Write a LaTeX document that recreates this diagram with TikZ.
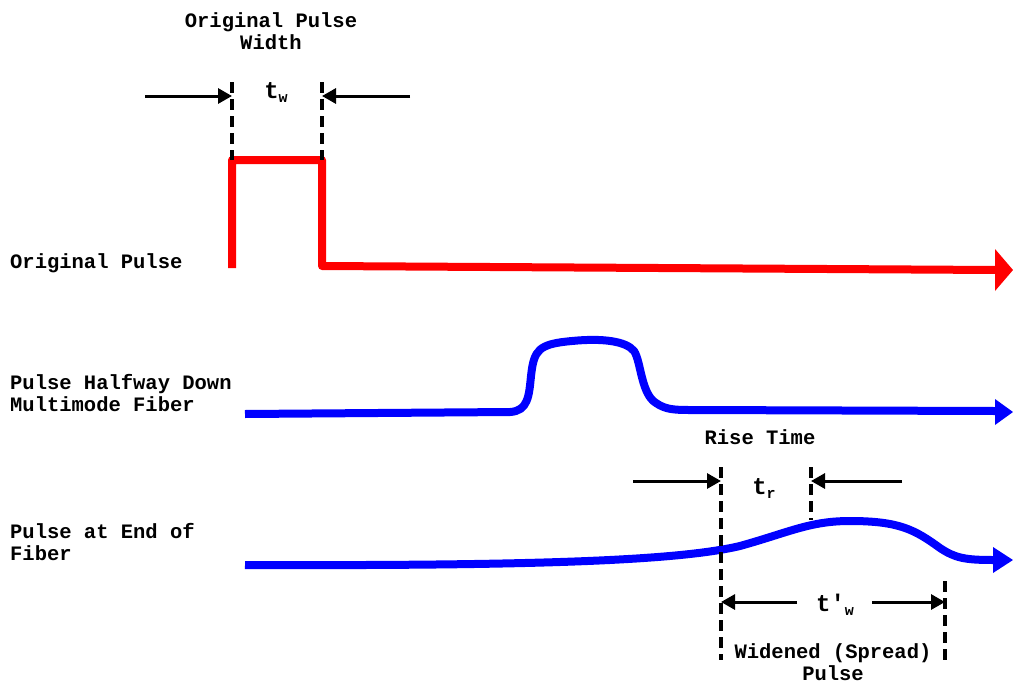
\documentclass[tikz,border=0pt]{standalone}
\usepackage{fontspec}
\setmonofont{Liberation Mono}
\usetikzlibrary{arrows.meta}
\begin{document}
\begin{tikzpicture}[x=1pt,y=-1pt,
  lbl/.style={font=\ttfamily\bfseries\fontsize{20.5}{22}\selectfont, inner sep=0pt, align=center},
  sidelbl/.style={lbl, align=left, anchor=west},
  sym/.style={font=\ttfamily\bfseries\fontsize{24}{24}\selectfont, inner sep=0pt},
  guide/.style={line width=3.2pt, dash pattern=on 11pt off 6pt},
  dim/.style={line width=3pt, -{Triangle[length=14pt,width=15pt]}},
  redpulse/.style={red, line width=8pt, line join=round},
  bluepulse/.style={blue, line width=8pt, line cap=butt},
]
\useasboundingbox (0,0) rectangle (1013,683);
\newcommand{\sub}[1]{\raisebox{-4pt}{\fontsize{15}{15}\selectfont #1}}

% ---- labels on the left
\node[sidelbl] (lorig) at (10,263) {Original Pulse};
\node[sidelbl] (lhalf) at (10,393) {Pulse Halfway Down\\Multimode Fiber};
\node[sidelbl] (lend)  at (10,542) {Pulse at End of\\Fiber};

% ---- original pulse (red)
\coordinate (r0) at (232,268);
\coordinate (r1) at (232,160);
\coordinate (r2) at (322,160);
\coordinate (r3) at (322,266);
\coordinate (r4) at (1013,270);
\draw[redpulse] (r0) -- (r1) -- (r2) -- (r3) -- ([xshift=-17pt]r4);
\fill[red] (r4) -- (995,249) -- (995,291) -- cycle;

% ---- original pulse width
\node[lbl] (lwidth) at (271,31) {Original Pulse\\Width};
\coordinate (wa) at (232,82);
\coordinate (wb) at (322,82);
\draw[guide] (wa) -- (r1);
\draw[guide] (wb) -- (r2);
\coordinate (wl) at (145,96);
\coordinate (wr) at (410,96);
\draw[dim] (wl) -- (wa |- wl);
\draw[dim] (wr) -- (wb |- wr);
\node[sym] (tw) at (276,93) {t\sub{w}};

% ---- pulse halfway down the fiber (blue)
\coordinate (h0) at (245,414);
\coordinate (h1) at (995,411);
\draw[bluepulse] (h0) -- (510,412)
  .. controls (528,411) and (529,396) .. (531,376)
  .. controls (534,350) and (538,344) .. (572,341)
  .. controls (602,338) and (626,341) .. (634,351)
  .. controls (641,361) and (641,394) .. (656,403)
  .. controls (666,410) and (676,410) .. (692,410)
  -- (h1);
\fill[blue] (1013,412) -- (995,399) -- (995,425) -- cycle;

% ---- pulse at the end of the fiber (blue)
\coordinate (e0) at (245,565);
\coordinate (e1) at (993,560);
\draw[bluepulse] (e0)
  .. controls (550,566) and (680,560) .. (740,546)
  .. controls (790,532) and (810,521) .. (850,521)
  .. controls (900,521) and (915,530) .. (940,548)
  .. controls (955,558) and (965,560) .. (e1);
\fill[blue] (1013,560) -- (993,547) -- (993,573) -- cycle;

% ---- rise time
\node[lbl] (lrise) at (760,437) {Rise Time};
\coordinate (ra) at (721,467);
\coordinate (rb) at (811,467);
\coordinate (ra2) at (721,660);
\coordinate (rb2) at (811,520);
\draw[guide] (ra) -- (ra2);
\draw[guide] (rb) -- (rb2);
\coordinate (tl) at (633,481);
\coordinate (tr) at (902,481);
\draw[dim] (tl) -- (ra |- tl);
\draw[dim] (tr) -- (rb |- tr);
\node[sym] (trl) at (764,489) {t\sub{r}};

% ---- widened pulse
\coordinate (wd) at (945,581);
\coordinate (wd2) at (945,660);
\draw[guide] (wd) -- (wd2);
\node[sym] (twp) at (835,605) {t'\sub{w}};
\coordinate (sl) at (797,602);
\coordinate (sr) at (872,602);
\draw[dim] (sl) -- (ra |- sl);
\draw[dim] (sr) -- (wd |- sr);
\node[lbl] (lwide) at (833,662) {Widened (Spread)\\Pulse};
\end{tikzpicture}
\end{document}
